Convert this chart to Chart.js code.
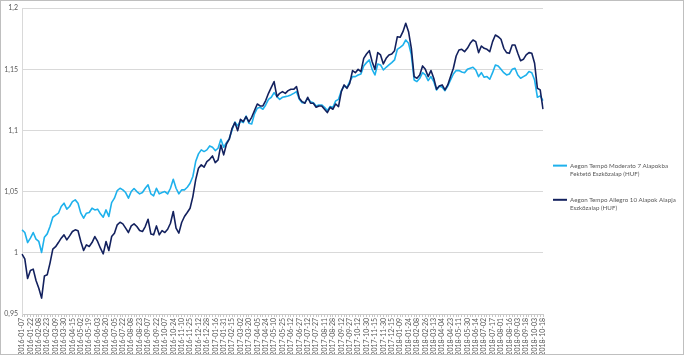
<!DOCTYPE html>
<html>
<head>
<meta charset="utf-8">
<script src="https://cdn.jsdelivr.net/npm/chart.js@4.4.0/dist/chart.umd.min.js"></script>
<style>
html,body{margin:0;padding:0;background:#fff;}
#wrap{width:684px;height:355px;position:relative;}
</style>
</head>
<body>
<div id="wrap"><canvas id="c"></canvas></div>
<script>
// Tick labels shown on the category axis (one every third data point)
const tickLabels = [
'2016-01-07','2016-01-22','2016-02-08','2016-02-23','2016-03-09','2016-03-30','2016-04-15','2016-05-02','2016-05-19','2016-06-03',
'2016-06-20','2016-07-05','2016-07-22','2016-08-08','2016-08-23','2016-09-07','2016-09-22','2016-10-07','2016-10-24','2016-11-10',
'2016-11-25','2016-12-12','2016-12-28','2017-01-16','2017-01-31','2017-02-15','2017-03-02','2017-03-20','2017-04-05','2017-04-24',
'2017-05-10','2017-05-25','2017-06-12','2017-06-27','2017-07-12','2017-07-27','2017-08-11','2017-08-28','2017-09-12','2017-09-27',
'2017-10-12','2017-10-30','2017-11-15','2017-11-30','2017-12-15','2018-01-09','2018-01-24','2018-02-08','2018-02-26','2018-03-13',
'2018-04-04','2018-04-23','2018-05-11','2018-05-30','2018-06-14','2018-07-02','2018-07-17','2018-08-01','2018-08-16','2018-09-03',
'2018-09-18','2018-10-03','2018-10-18'
];
const pointsPerTick = 3;

// Aegon Tempó Moderato 7 (light blue)
const moderato = [
1.0188,1.0166,1.0084,1.0120,1.0166,1.0112,1.0093,1.0003,1.0128,1.0155,
1.0215,1.0291,1.0308,1.0324,1.0379,1.0406,1.0357,1.0379,1.0419,1.0433,
1.0406,1.0324,1.0283,1.0324,1.0330,1.0365,1.0351,1.0357,1.0319,1.0291,
1.0351,1.0297,1.0411,1.0447,1.0509,1.0528,1.0515,1.0493,1.0447,1.0501,
1.0526,1.0501,1.0482,1.0493,1.0528,1.0556,1.0482,1.0466,1.0528,1.0482,
1.0493,1.0501,1.0482,1.0528,1.0602,1.0528,1.0482,1.0515,1.0515,1.0536,
1.0569,1.0624,1.0746,1.0809,1.0842,1.0828,1.0842,1.0874,1.0863,1.0836,
1.0855,1.0929,1.0863,1.0901,1.0934,1.1005,1.1070,1.1038,1.1078,1.1065,
1.1119,1.1059,1.1054,1.1136,1.1182,1.1190,1.1174,1.1209,1.1255,1.1272,
1.1310,1.1277,1.1255,1.1272,1.1277,1.1283,1.1291,1.1304,1.1318,1.1255,
1.1228,1.1228,1.1264,1.1236,1.1228,1.1201,1.1209,1.1209,1.1190,1.1163,
1.1196,1.1190,1.1242,1.1255,1.1326,1.1364,1.1353,1.1400,1.1441,1.1441,
1.1454,1.1462,1.1528,1.1555,1.1577,1.1500,1.1454,1.1544,1.1536,1.1495,
1.1517,1.1536,1.1555,1.1577,1.1664,1.1680,1.1699,1.1740,1.1713,1.1618,
1.1413,1.1400,1.1427,1.1473,1.1454,1.1408,1.1441,1.1400,1.1332,1.1364,
1.1353,1.1326,1.1364,1.1413,1.1462,1.1490,1.1490,1.1479,1.1473,1.1500,
1.1509,1.1517,1.1495,1.1441,1.1473,1.1435,1.1441,1.1419,1.1473,1.1536,
1.1528,1.1500,1.1473,1.1454,1.1462,1.1500,1.1509,1.1454,1.1427,1.1441,
1.1454,1.1482,1.1473,1.1413,1.1272,1.1283,1.1245
];

// Aegon Tempo Allegro 10 (dark navy)
const allegro = [
0.9990,0.9950,0.9790,0.9856,0.9867,0.9774,0.9710,0.9630,0.9810,0.9820,
0.9916,1.0030,1.0050,1.0084,1.0120,1.0147,1.0106,1.0139,1.0174,1.0188,
1.0180,1.0093,1.0019,1.0065,1.0052,1.0084,1.0133,1.0093,1.0038,0.9992,
1.0093,1.0019,1.0133,1.0161,1.0229,1.0250,1.0237,1.0202,1.0166,1.0220,
1.0237,1.0215,1.0182,1.0174,1.0215,1.0275,1.0155,1.0147,1.0220,1.0147,
1.0182,1.0166,1.0193,1.0242,1.0338,1.0202,1.0161,1.0248,1.0297,1.0330,
1.0365,1.0460,1.0596,1.0692,1.0719,1.0700,1.0746,1.0765,1.0792,1.0738,
1.0760,1.0882,1.0801,1.0890,1.0929,1.1018,1.1065,1.0999,1.1092,1.1073,
1.1114,1.1070,1.1108,1.1163,1.1217,1.1201,1.1201,1.1245,1.1304,1.1353,
1.1400,1.1277,1.1304,1.1318,1.1304,1.1326,1.1337,1.1337,1.1359,1.1264,
1.1236,1.1223,1.1272,1.1223,1.1223,1.1190,1.1201,1.1201,1.1174,1.1147,
1.1190,1.1174,1.1217,1.1196,1.1318,1.1373,1.1345,1.1386,1.1490,1.1473,
1.1500,1.1481,1.1590,1.1626,1.1653,1.1563,1.1500,1.1637,1.1618,1.1544,
1.1590,1.1618,1.1626,1.1653,1.1767,1.1762,1.1808,1.1876,1.1808,1.1672,
1.1441,1.1427,1.1454,1.1528,1.1500,1.1441,1.1490,1.1427,1.1337,1.1364,
1.1373,1.1332,1.1373,1.1441,1.1509,1.1609,1.1658,1.1664,1.1645,1.1672,
1.1713,1.1740,1.1727,1.1637,1.1691,1.1672,1.1664,1.1645,1.1727,1.1781,
1.1767,1.1746,1.1672,1.1637,1.1631,1.1699,1.1699,1.1631,1.1571,1.1582,
1.1618,1.1637,1.1631,1.1550,1.1345,1.1332,1.1174
];

const seriesNames = [
  ['Aegon Tempó Moderato 7 Alapokba', 'Fektető Eszközalap (HUF)'],
  ['Aegon Tempo Allegro 10 Alapok Alapja', 'Eszközalap (HUF)']
];
const seriesColors = ['#1eb1ec', '#13215e'];
const yMin = 0.95, yMax = 1.2, yStep = 0.05;

const categories = moderato.map((_, i) => (i % pointsPerTick === 0 ? tickLabels[i / pointsPerTick] : ''));

const FONT = 'Lato, "Open Sans", sans-serif';
const TXT = '#595959';

const framePlugin = {
  id: 'frame',
  beforeDraw(chart) {
    const ctx = chart.ctx;
    ctx.save();
    ctx.fillStyle = '#ffffff';
    ctx.fillRect(0, 0, chart.width, chart.height);
    ctx.restore();
  },
  afterDraw(chart) {
    const ctx = chart.ctx;
    ctx.save();
    ctx.strokeStyle = '#bfbfbf';
    ctx.lineWidth = 1;
    ctx.strokeRect(0.5, 0.5, chart.width - 1, chart.height - 1);
    ctx.restore();
  }
};

new Chart(document.getElementById('c'), {
  type: 'line',
  data: {
    labels: categories,
    datasets: [
      { label: seriesNames[0].join(' '), data: moderato, borderColor: seriesColors[0], backgroundColor: seriesColors[0],
        borderWidth: 1.6, pointRadius: 0, tension: 0, order: 1, borderJoinStyle: 'round' },
      { label: seriesNames[1].join(' '), data: allegro, borderColor: seriesColors[1], backgroundColor: seriesColors[1],
        borderWidth: 1.6, pointRadius: 0, tension: 0, order: 0, borderJoinStyle: 'round' }
    ]
  },
  options: {
    responsive: true,
    maintainAspectRatio: false,
    animation: false,
    devicePixelRatio: 1,
    layout: { padding: { top: 5, right: 0, left: 0, bottom: 0 } },
    plugins: {
      tooltip: { enabled: false },
      legend: {
        position: 'right',
        align: 'center',
        maxWidth: 141,
        title: { display: true, text: '', padding: { top: 5, bottom: 4 } },
        labels: {
          usePointStyle: true,
          pointStyle: 'line',
          pointStyleWidth: 14,
          boxWidth: 13,
          boxHeight: 2,
          padding: 10,
          color: TXT,
          font: { family: FONT, size: 6.2, lineHeight: 1.3 },
          sort: (a, b) => a.datasetIndex - b.datasetIndex,
          generateLabels(chart) {
            const items = Chart.defaults.plugins.legend.labels.generateLabels(chart);
            items.forEach(it => { it.text = seriesNames[it.datasetIndex].concat(['']); it.lineWidth = 2; });
            return items;
          }
        }
      }
    },
    scales: {
      x: {
        type: 'category',
        offset: false,
        afterFit(scale) { scale.height = 41; },
        grid: { display: true, drawOnChartArea: false, drawTicks: true, tickLength: 3, color: '#c8c8c8' },
        border: { display: true, color: '#c8c8c8', width: 1 },
        ticks: {
          autoSkip: false,
          minRotation: 90,
          maxRotation: 90,
          padding: 1,
          color: TXT,
          font: { family: FONT, size: 7 },
          callback(value, index) { return categories[index]; }
        }
      },
      y: {
        min: yMin,
        max: yMax,
        afterFit(scale) { scale.width = 22; },
        grid: { color: '#d9d9d9', drawTicks: false, lineWidth: 1 },
        border: { display: true, color: '#d9d9d9' },
        ticks: {
          stepSize: yStep,
          padding: 4,
          color: TXT,
          font: { family: FONT, size: 7 },
          callback(v) { return String(+v.toFixed(2)).replace('.', ','); }
        }
      }
    }
  },
  plugins: [framePlugin]
});
</script>
</body>
</html>
